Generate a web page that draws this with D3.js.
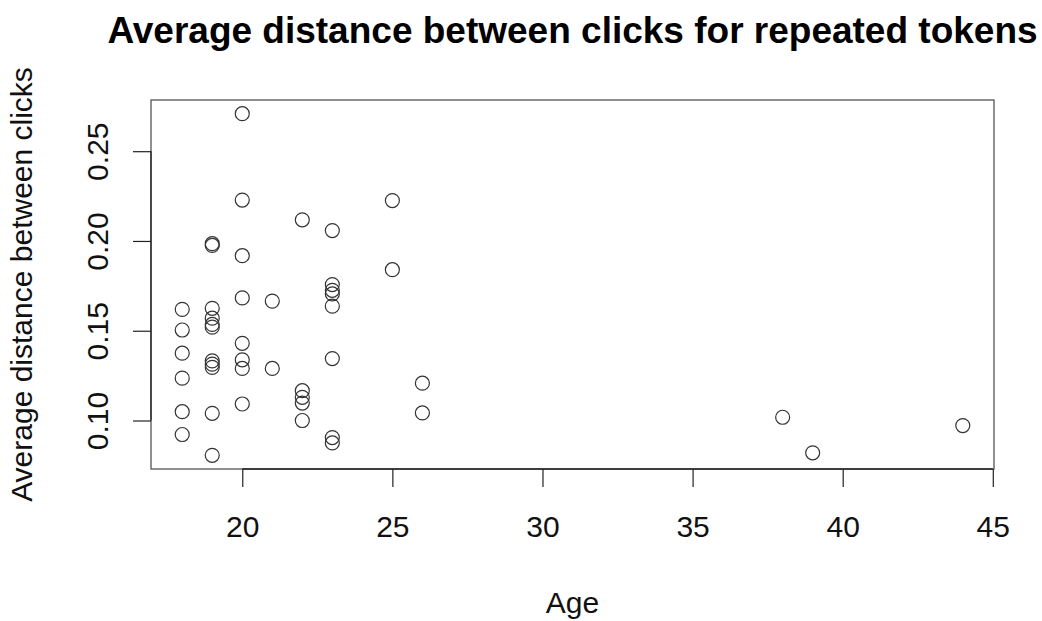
<!DOCTYPE html>
<html>
<head>
<meta charset="utf-8">
<script src="https://cdn.jsdelivr.net/npm/d3@7"></script>
<style>
  html, body { margin: 0; padding: 0; background: #fff; }
  svg { display: block; font-family: "Liberation Sans", Arial, Helvetica, sans-serif; }
</style>
</head>
<body>
<svg id="chart" width="1042" height="621"></svg>
<script>
// Participant age and their average distance between clicks on repeated tokens
const ages = [
  18, 18, 18, 18, 18, 18,
  19, 19, 19, 19, 19, 19, 19, 19, 19, 19, 19,
  20, 20, 20, 20, 20, 20, 20, 20,
  21, 21,
  22, 22, 22, 22, 22,
  23, 23, 23, 23, 23, 23, 23, 23,
  25, 25,
  26, 26,
  38, 39, 44
];
const avgDistance = [
  0.1619, 0.1504, 0.1375, 0.1236, 0.1049, 0.0922,
  0.1985, 0.1975, 0.1625, 0.1570, 0.1535, 0.1520, 0.1332, 0.1314, 0.1296, 0.1040, 0.0806,
  0.2709, 0.2228, 0.1918, 0.1683, 0.1430, 0.1338, 0.1290, 0.1092,
  0.1665, 0.1290,
  0.2118, 0.1166, 0.1129, 0.1097, 0.1000,
  0.2058, 0.1757, 0.1725, 0.1705, 0.1637, 0.1345, 0.0905, 0.0875,
  0.2225, 0.1840,
  0.1208, 0.1042,
  0.1018, 0.0820, 0.0972
];
const xTicks = [20, 25, 30, 35, 40, 45];
const yTicks = [0.10, 0.15, 0.20, 0.25];
const yTickLabels = ["0.10", "0.15", "0.20", "0.25"];

const titleText = "Average distance between clicks for repeated tokens";
const xLabel = "Age";
const yLabel = "Average distance between clicks";

const svg = d3.select("#chart");
const plot = { left: 151, right: 994, top: 100, bottom: 469 };

// Extend each data range by 4% on both sides
function padded(values) {
  const [lo, hi] = d3.extent(values);
  const pad = (hi - lo) * 0.04;
  return [lo - pad, hi + pad];
}

const x = d3.scaleLinear().domain(padded(ages)).range([plot.left, plot.right]);
const y = d3.scaleLinear().domain(padded(avgDistance)).range([plot.bottom, plot.top]);

const ink = "#222";
const fontSize = 30;

// Plot frame
svg.append("rect")
  .attr("x", plot.left).attr("y", plot.top)
  .attr("width", plot.right - plot.left).attr("height", plot.bottom - plot.top)
  .attr("fill", "none").attr("stroke", "#555").attr("stroke-width", 1.3);

// X axis
const gx = svg.append("g")
  .attr("transform", `translate(0,${plot.bottom})`)
  .call(d3.axisBottom(x).tickValues(xTicks).tickSize(18).tickFormat(d3.format("d")));
gx.select(".domain").remove();
gx.append("line")
  .attr("x1", x(xTicks[0])).attr("x2", x(xTicks[xTicks.length - 1]))
  .attr("stroke", ink).attr("stroke-width", 1.3);
gx.selectAll(".tick line").attr("stroke", ink).attr("stroke-width", 1.2);
gx.selectAll(".tick text")
  .attr("y", 68).attr("dy", null)
  .attr("fill", "#111").style("font-size", fontSize + "px");

// Y axis with rotated labels
const gy = svg.append("g")
  .attr("transform", `translate(${plot.left},0)`)
  .call(d3.axisLeft(y).tickValues(yTicks).tickSize(18)
    .tickFormat((d, i) => yTickLabels[i]));
gy.select(".domain").remove();
gy.append("line")
  .attr("y1", y(yTicks[0])).attr("y2", y(yTicks[yTicks.length - 1]))
  .attr("stroke", ink).attr("stroke-width", 1.3);
gy.selectAll(".tick line").attr("stroke", ink).attr("stroke-width", 1.2);
gy.selectAll(".tick text")
  .attr("x", null).attr("dy", null)
  .attr("text-anchor", "middle")
  .attr("transform", "translate(-43,0) rotate(-90)")
  .attr("fill", "#111").style("font-size", fontSize + "px");

// Points as open circles
svg.append("g")
  .selectAll("circle")
  .data(ages.map((a, i) => ({ age: a, value: avgDistance[i] })))
  .join("circle")
  .attr("cx", d => x(d.age))
  .attr("cy", d => y(d.value))
  .attr("r", 7)
  .attr("fill", "none")
  .attr("stroke", "#333")
  .attr("stroke-width", 1.2);

// Title and axis titles
const midX = (plot.left + plot.right) / 2;
svg.append("text")
  .attr("x", midX).attr("y", 43)
  .attr("text-anchor", "middle")
  .style("font-size", "37px").style("font-weight", "bold")
  .attr("fill", "#000")
  .text(titleText);

svg.append("text")
  .attr("x", midX).attr("y", 613)
  .attr("text-anchor", "middle")
  .style("font-size", fontSize + "px")
  .attr("fill", "#111")
  .text(xLabel);

svg.append("text")
  .attr("transform", `translate(32,${(plot.top + plot.bottom) / 2}) rotate(-90)`)
  .attr("text-anchor", "middle")
  .style("font-size", fontSize + "px")
  .attr("fill", "#111")
  .text(yLabel);
</script>
</body>
</html>
